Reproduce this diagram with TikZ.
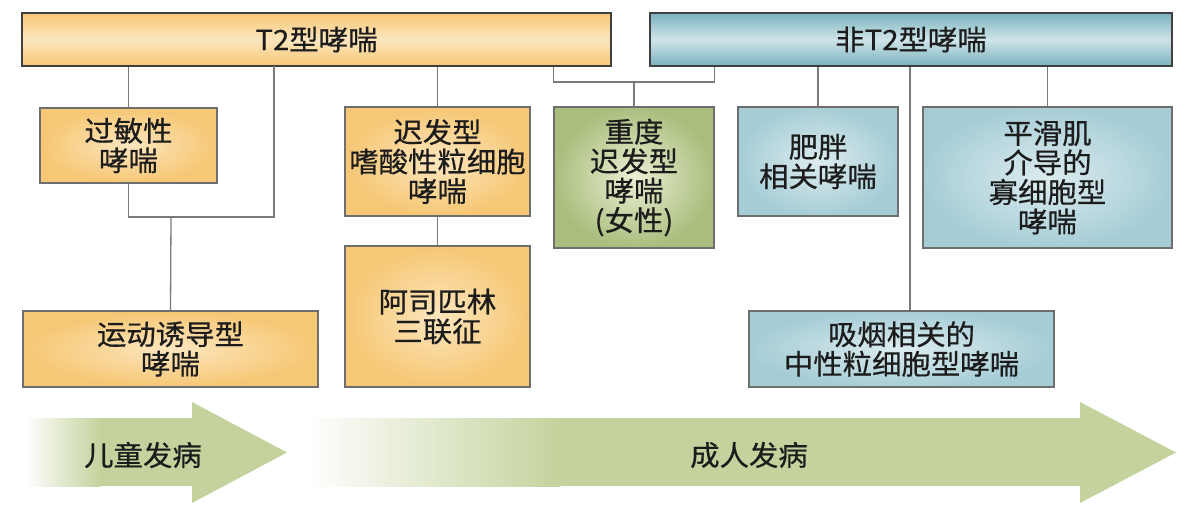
\documentclass[tikz,border=0pt]{standalone}
\usepackage{fontspec}
\newfontfamily\cjk{Noto Sans CJK SC}[FakeStretch=1.05,FakeBold=0.6]
\definecolor{orEdge}{HTML}{F6C774}
\definecolor{orMid}{HTML}{FCE6BE}
\definecolor{blEdge}{HTML}{A6CDD6}
\definecolor{blMid}{HTML}{DCECEF}
\definecolor{blTop}{HTML}{7AB2BD}
\definecolor{blTopMid}{HTML}{CFE5E9}
\definecolor{grEdge}{HTML}{A9BE7D}
\definecolor{grMid}{HTML}{EBEFD4}
\definecolor{arrGreen}{HTML}{C4D39D}
\definecolor{lineGray}{HTML}{7A7A7A}
\definecolor{boxGray}{HTML}{6E6E6E}
\definecolor{txt}{HTML}{1C1C1C}
\tikzset{
  box/.style={draw=boxGray, line width=1.2pt, inner sep=0pt, align=center,
    text=txt, font={\cjk\fontsize{28}{29.5}\selectfont}},
  obox/.style={box, inner color=orMid, outer color=orEdge},
  bbox/.style={box, inner color=blMid, outer color=blEdge},
  gbox/.style={box, inner color=grMid, outer color=grEdge},
  conn/.style={draw=lineGray, line width=1.3pt},
  lbl/.style={text=txt, font={\cjk\fontsize{28}{29.5}\selectfont}, inner sep=0pt}
}
\begin{document}
\begin{tikzpicture}[x=1pt,y=-1pt]
\useasboundingbox (0,0) rectangle (1188,505);
\fill[white] (0,0) rectangle (1188,505);

% arrows
\fill[arrGreen] (25,418) -- (192,418) -- (192,402) -- (287,452.5) -- (192,503) -- (192,486) -- (25,486) -- cycle;
\fill[left color=white, right color=arrGreen] (25,418) rectangle (100,486);
\fill[arrGreen] (305,418) -- (1080,418) -- (1080,402) -- (1176,452.5) -- (1080,503) -- (1080,486) -- (305,486) -- cycle;
\fill[left color=white, right color=arrGreen] (305,418) rectangle (560,486);
\node[lbl] (kid) at (143,455) {儿童发病};
\node[lbl] (adult) at (749,455) {成人发病};

% top bars
\node[box, draw=black!75, minimum width=589pt, minimum height=53pt,
  top color=orEdge, bottom color=orEdge, middle color=orMid] (T2) at (316.5,39.5) {T2型哮喘};
\node[box, draw=black!75, minimum width=522pt, minimum height=53pt,
  top color=blTop, bottom color=blTop, middle color=blTopMid] (NT2) at (911,39.5) {非T2型哮喘};

% boxes
\node[obox, minimum width=177pt, minimum height=75pt] (guomin) at (128.5,145.5) {过敏性\\哮喘};
\node[obox, minimum width=185pt, minimum height=109pt] (chifa) at (437.5,161.5) {迟发型\\嗜酸性粒细胞\\哮喘};
\node[gbox, minimum width=160pt, minimum height=141pt] (zhongdu) at (634,177.5) {重度\\迟发型\\哮喘\\(女性)};
\node[bbox, minimum width=160pt, minimum height=109pt] (feipang) at (818,161.5) {肥胖\\相关哮喘};
\node[bbox, minimum width=249pt, minimum height=141pt] (pinghua) at (1047.5,177.5) {平滑肌\\介导的\\寡细胞型\\哮喘};
\node[obox, minimum width=295pt, minimum height=76pt] (yundong) at (170.5,349) {运动诱导型\\哮喘};
\node[obox, minimum width=185pt, minimum height=141pt] (asi) at (437.5,316.5) {阿司匹林\\三联征};
\node[bbox, minimum width=305pt, minimum height=76pt] (xiyan) at (901.5,349) {吸烟相关的\\中性粒细胞型哮喘};

% connectors
\coordinate (ja) at (171,217);
\coordinate (ta) at (274,66);
\coordinate (jb) at (634,82);
\coordinate (xs) at (910,0);
\draw[conn] (T2.south -| guomin.north) -- (guomin.north);
\draw[conn] (guomin.south) |- (ja) -| (ta);
\draw[conn] (ja) -- (yundong.north);
\draw[conn] (T2.south -| chifa.north) -- (chifa.north);
\draw[conn] (chifa.south) -- (asi.north);
\draw[conn] (T2.south -| zhongdu.west) |- (jb) -| (NT2.south -| zhongdu.east);
\draw[conn] (jb) -- (zhongdu.north);
\draw[conn] (NT2.south -| feipang.north) -- (feipang.north);
\draw[conn] (NT2.south -| pinghua.north) -- (pinghua.north);
\draw[conn] (NT2.south -| xs) -- (xiyan.north -| xs);
\end{tikzpicture}
\end{document}
